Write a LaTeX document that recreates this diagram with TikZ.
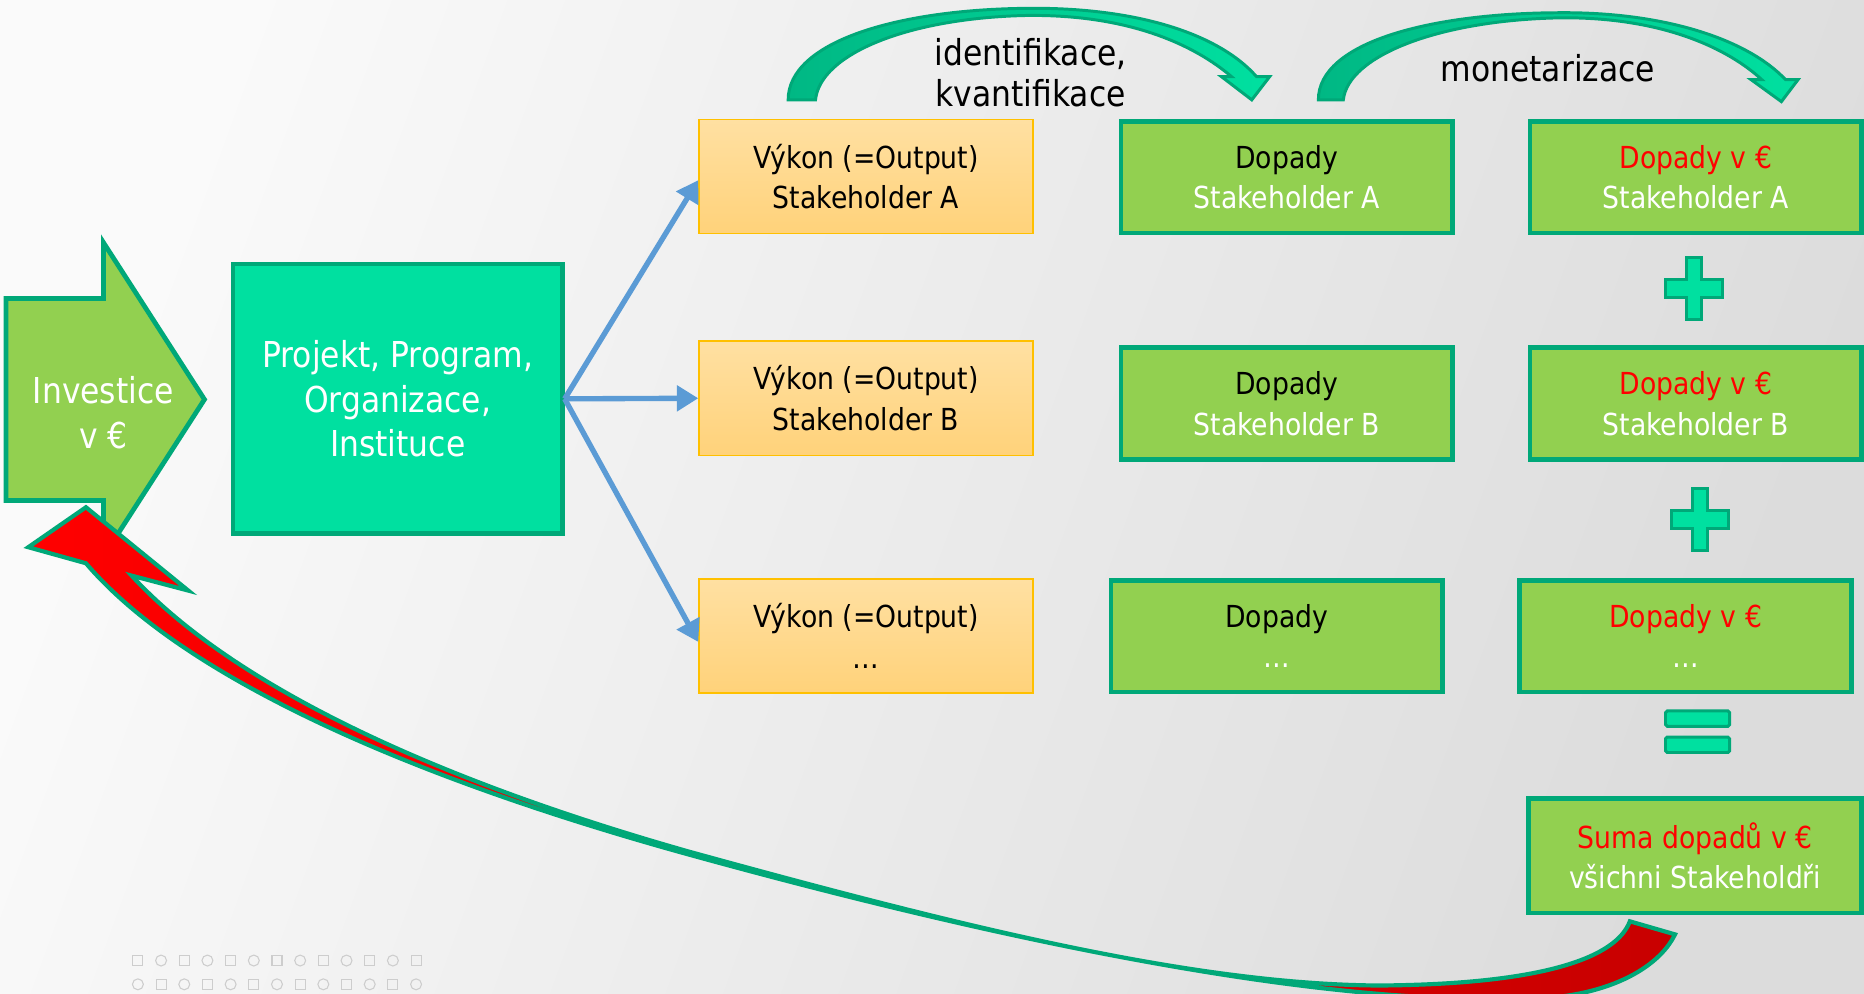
\documentclass[tikz,border=0pt]{standalone}
\usepackage{fontspec}
\setmainfont{DejaVu Sans}[FakeStretch=0.88]
\usetikzlibrary{arrows.meta}
\definecolor{lg}{HTML}{92D050}
\definecolor{dg}{HTML}{00A878}
\definecolor{dgl}{HTML}{00B884}
\definecolor{mint}{HTML}{00E0A0}
\definecolor{orT}{HTML}{FFE0A2}
\definecolor{orB}{HTML}{FFD27A}
\definecolor{orL}{HTML}{FFC000}
\definecolor{blu}{HTML}{5B9BD5}
\definecolor{bgA}{HTML}{FAFAFA}
\definecolor{bgB}{HTML}{DCDCDC}
\definecolor{decor}{HTML}{CDCDCD}
\definecolor{redf}{HTML}{FF0000}
\definecolor{redd}{HTML}{C80000}
\begin{document}
\begin{tikzpicture}[x=1pt,y=-1pt,
  txt/.style={font=\fontsize{25.5}{34}\selectfont, align=center, inner sep=0pt},
  outbox/.style={txt, draw=orL, line width=1.2pt, top color=orT, bottom color=orB,
     minimum width=281pt, minimum height=96pt},
  impbox/.style={txt, draw=dg, line width=4pt, fill=lg, minimum width=279pt, minimum height=94pt},
  bluarrow/.style={blu, line width=4.5pt, -{Triangle[length=18pt,width=21pt]}},
  curvearrow/.style={left color=dgl, right color=mint, draw=dg, line width=2.5pt, line join=miter},
  signpart/.style={fill=mint, draw=dg, line width=2.5pt},
  decorsq/.style={draw=decor, line width=0.9pt},
  pics/plussign/.style={code={
    \path[signpart] (-6.5,-26) -- (6.5,-26) -- (6.5,-7.5) -- (24,-7.5) -- (24,7.5) -- (6.5,7.5)
      -- (6.5,26) -- (-6.5,26) -- (-6.5,7.5) -- (-24,7.5) -- (-24,-7.5) -- (-6.5,-7.5) -- cycle;}}
]
\useasboundingbox (0,0) rectangle (1568,836);
\shade[left color=bgA, right color=bgB, shading angle=70] (0,0) rectangle (1568,836);

% top curved arrows
\path[curvearrow] (663,84) -- (686,84)
  .. controls (690,45) and (765,15) .. (864,13) .. controls (950,12) and (1005,38) .. (1036,64.5)
  -- (1027.5,64.5) -- (1053,84) -- (1068,64.5) -- (1057,64.5)
  .. controls (1025,28) and (955,6) .. (864,7) .. controls (755,8) and (663,35) .. (663,84) -- cycle;
\path[curvearrow] (1109,84) -- (1130,84)
  .. controls (1134,47) and (1210,17) .. (1312,15) .. controls (1400,14) and (1455,42) .. (1482,67)
  -- (1473,67) -- (1498.5,85.5) -- (1512.5,67) -- (1502,67)
  .. controls (1470,33) and (1400,10) .. (1312,10.7) .. controls (1205,11) and (1109,35) .. (1109,84) -- cycle;
\node[txt, font=\fontsize{30}{35}\selectfont] (lab1) at (867,61) {identifikace,\\kvantifikace};
\node[txt, font=\fontsize{30}{35}\selectfont] (lab2) at (1302,57) {monetarizace};

% boxes
\node[txt, draw=dg, line width=4pt, fill=mint, minimum width=277pt, minimum height=227pt,
      font=\fontsize{30}{37.5}\selectfont, text=white] (proj) at (334.5,335.5)
      {Projekt, Program,\\Organizace,\\Instituce};
\node[outbox] (out1) at (728.5,148.5) {Výkon (=Output)\\Stakeholder A};
\node[outbox] (out2) at (728.5,335) {Výkon (=Output)\\Stakeholder B};
\node[outbox] (out3) at (728.5,535) {Výkon (=Output)\\…};
\node[impbox] (imp1) at (1082.5,149) {Dopady\\\textcolor{white}{Stakeholder A}};
\node[impbox] (imp2) at (1082.5,339.5) {Dopady\\\textcolor{white}{Stakeholder B}};
\node[impbox] (imp3) at (1074,535) {Dopady\\\textcolor{white}{…}};
\node[impbox] (mon1) at (1426.5,149) {\textcolor{redf}{Dopady v €}\\\textcolor{white}{Stakeholder A}};
\node[impbox] (mon2) at (1426.5,339.5) {\textcolor{redf}{Dopady v €}\\\textcolor{white}{Stakeholder B}};
\node[impbox] (mon3) at (1418,535) {\textcolor{redf}{Dopady v €}\\\textcolor{white}{…}};
\node[impbox, minimum width=280pt, minimum height=96pt] (sum) at (1426,720)
      {\textcolor{redf}{Suma dopadů v €}\\\textcolor{white}{všichni Stakeholdři}};

% blue arrows
\draw[bluarrow] (proj.east) -- ([yshift=-3pt]out1.west);
\draw[bluarrow] (proj.east) -- (out2.west);
\draw[bluarrow] (proj.east) -- ([yshift=-5pt]out3.west);

% investice arrow
\path[fill=lg, draw=dg, line width=4pt, line join=miter]
  (5,251) -- (87,251) -- (87,204) -- (172,336) -- (87,468) -- (87,421) -- (5,421) -- cycle;
\node[txt, font=\fontsize{30}{38}\selectfont, text=white] (inv) at (87,347) {Investice\\v €};

% red return arrow
\path[left color=redf, middle color=redf, right color=redd, draw=dg, line width=3.5pt, line join=miter]
  (72.3,426.7) -- (158.4,496.8) -- (110.7,484.2)
  .. controls (185,565) and (335,647) .. (580,716.5)
  .. controls (800,777) and (1000,828) .. (1160,829)
  .. controls (1300,828) and (1360,805) .. (1371,775)
  -- (1409,786)
  .. controls (1395,815) and (1350,840) .. (1283,840)
  .. controls (1100,846) and (830,788) .. (580,719)
  .. controls (330,650) and (150,565) .. (72.3,473.8)
  -- (23.8,460.3) -- cycle;

% plus and equal signs
\pic (plus1) at (1425,243) {plussign};
\pic (plus2) at (1430,437) {plussign};
\path[signpart, rounded corners=1.5pt] (1401,598) rectangle (1455,611);
\path[signpart, rounded corners=1.5pt] (1401,620) rectangle (1455,633);

% decoration
\foreach \i in {0,...,12}{
  \pgfmathsetmacro{\xx}{116+19.5*\i}
  \ifodd\i
    \draw[decorsq] (\xx,808) circle (4.6pt);
    \draw[decorsq] (\xx-4.2,823.6) rectangle (\xx+4.2,832);
  \else
    \draw[decorsq] (\xx-4.2,803.8) rectangle (\xx+4.2,812.2);
    \draw[decorsq] (\xx,828) circle (4.6pt);
  \fi
}
\end{tikzpicture}
\end{document}
